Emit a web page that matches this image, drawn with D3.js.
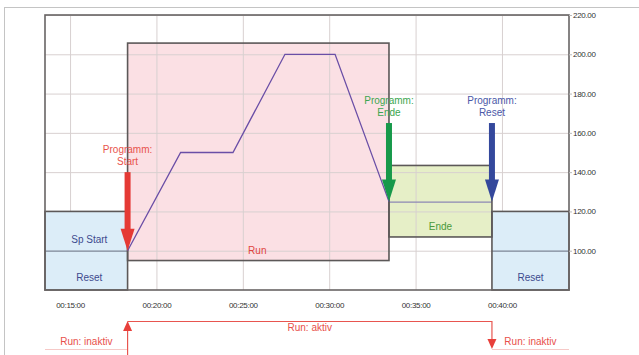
<!DOCTYPE html>
<html>
<head>
<meta charset="utf-8">
<script src="https://cdn.jsdelivr.net/npm/d3@7"></script>
<style>
  body { margin: 0; background: #fff; }
  text { font-family: "Liberation Sans", Arial, sans-serif; }
</style>
</head>
<body>
<svg id="chart" width="639" height="355"></svg>
<script>
// time in minutes after 00:00:00
var xDomain = [13.55, 43.88],
    yDomain = [80, 220],
    xTicks = [15, 20, 25, 30, 35, 40],
    yTicks = [100, 120, 140, 160, 180, 200, 220];

// program phases
var phaseNames = ["Reset", "Run", "Ende", "Reset"],
    phaseStart = [13.55, 18.33, 33.46, 39.42],
    phaseEnd   = [18.33, 33.46, 39.42, 43.88],
    phaseLow   = [80, 95, 107, 80],
    phaseHigh  = [120, 205.7, 143.4, 120];

// setpoint profile while running
var spTime  = [18.33, 21.4, 24.43, 27.44, 30.34, 33.46],
    spValue = [100, 150, 150, 200, 200, 125];

// setpoint holds outside of run
var holdStart = [13.55, 33.46, 39.42],
    holdEnd   = [18.33, 39.42, 43.88],
    holdValue = [100, 125, 100];

// program events
var eventNames  = ["Start", "Ende", "Reset"],
    eventTimes  = [18.33, 33.46, 39.42],
    eventValues = [100, 125, 125];

// run signal
var runTimes  = [13.55, 18.33, 39.42, 43.88],
    runStates = ["inaktiv", "aktiv", "inaktiv"];

var svg = d3.select("#chart"),
    MARGINS = {top: 15, right: 70, bottom: 65, left: 45},
    WIDTH = 639, HEIGHT = 355;

var x = d3.scaleLinear().domain(xDomain).range([MARGINS.left, WIDTH - MARGINS.right]),
    y = d3.scaleLinear().domain(yDomain).range([HEIGHT - MARGINS.bottom, MARGINS.top]),
    yRun = d3.scalePoint().domain(["aktiv", "inaktiv"]).range([321, 349]);

var fills = {Reset: "#dcedf8", Run: "#fbe0e4", Ende: "#e6efc7"},
    textCol = {Reset: "#3d4a8e", Run: "#e0453e", Ende: "#4a9a3c"},
    evCol = {Start: "#e53a35", Ende: "#17994a", Reset: "#34489c"},
    evText = {Start: "#e8524c", Ende: "#3ca650", Reset: "#4b58a8"};

var pad = function(n) { return (n < 10 ? "0" : "") + n; };

// outer frame of the figure
svg.append("rect").attr("x", 4.5).attr("y", 7.5).attr("width", 700).attr("height", 400)
  .attr("fill", "none").attr("stroke", "#c4c4c4");

var idx = d3.range(phaseNames.length);

// translucent phase fills (pink / yellow) under the grid
svg.append("g").selectAll("rect").data(idx.filter(function(i) { return phaseNames[i] != "Reset"; }))
  .enter().append("rect")
  .attr("x", function(i) { return x(phaseStart[i]); })
  .attr("y", function(i) { return y(phaseHigh[i]); })
  .attr("width", function(i) { return x(phaseEnd[i]) - x(phaseStart[i]); })
  .attr("height", function(i) { return y(phaseLow[i]) - y(phaseHigh[i]); })
  .attr("fill", function(i) { return fills[phaseNames[i]]; });

// grid
var grid = svg.append("g").attr("stroke", "#d8d0d0").attr("stroke-width", 1);
grid.selectAll(".gx").data(xTicks).enter().append("line")
  .attr("x1", function(d) { return x(d) + 0.5; }).attr("x2", function(d) { return x(d) + 0.5; })
  .attr("y1", y(yDomain[1])).attr("y2", y(yDomain[0]));
grid.selectAll(".gy").data(yTicks).enter().append("line")
  .attr("x1", x(xDomain[0])).attr("x2", x(xDomain[1]))
  .attr("y1", function(d) { return y(d) + 0.5; }).attr("y2", function(d) { return y(d) + 0.5; });

// reset boxes are opaque
svg.append("g").selectAll("rect").data(idx.filter(function(i) { return phaseNames[i] == "Reset"; }))
  .enter().append("rect")
  .attr("x", function(i) { return x(phaseStart[i]); })
  .attr("y", function(i) { return y(phaseHigh[i]); })
  .attr("width", function(i) { return x(phaseEnd[i]) - x(phaseStart[i]); })
  .attr("height", function(i) { return y(phaseLow[i]) - y(phaseHigh[i]); })
  .attr("fill", fills.Reset);

// setpoint holds
svg.append("g").selectAll("line").data(d3.range(holdStart.length)).enter().append("line")
  .attr("x1", function(i) { return x(holdStart[i]); })
  .attr("x2", function(i) { return x(holdEnd[i]); })
  .attr("y1", function(i) { return y(holdValue[i]) + 0.5; })
  .attr("y2", function(i) { return y(holdValue[i]) + 0.5; })
  .attr("stroke", function(i) { return i == 1 ? "#8c88b4" : "#7c8596"; })
  .attr("stroke-width", 1.2);

// phase borders
svg.append("g").selectAll("rect").data(idx).enter().append("rect")
  .attr("x", function(i) { return x(phaseStart[i]); })
  .attr("y", function(i) { return y(phaseHigh[i]); })
  .attr("width", function(i) { return x(phaseEnd[i]) - x(phaseStart[i]); })
  .attr("height", function(i) { return y(phaseLow[i]) - y(phaseHigh[i]); })
  .attr("fill", "none").attr("stroke", "#5c5858").attr("stroke-width", 1.6);

// setpoint profile
var lineGen = d3.line()
  .x(function(i) { return x(spTime[i]); })
  .y(function(i) { return y(spValue[i]); });
svg.append("path")
  .attr("d", lineGen(d3.range(spTime.length)))
  .attr("fill", "none").attr("stroke", "#6a4ea6").attr("stroke-width", 1.3);

// phase labels
var phaseLabelY = [118, 97.5, 111, 95.5];
svg.append("g").selectAll("text").data(idx).enter().append("text")
  .attr("x", function(i) { return x((phaseStart[i] + phaseEnd[i]) / 2) + (i == 0 ? 3 : i == 1 ? -1 : 0); })
  .attr("y", function(i) { return y(phaseLow[i] == 80 ? 84.5 : (phaseLow[i] + 3.5)); })
  .attr("text-anchor", "middle").attr("font-size", 10)
  .attr("fill", function(i) { return textCol[phaseNames[i]]; })
  .text(function(i) { return phaseNames[i]; });
svg.append("text").attr("x", x((phaseStart[0] + phaseEnd[0]) / 2) + 3).attr("y", y(104))
  .attr("text-anchor", "middle").attr("font-size", 10).attr("fill", textCol.Reset).text("Sp Start");

// event arrows
var ev = svg.append("g").selectAll("g").data(d3.range(eventNames.length)).enter().append("g");
ev.append("rect")
  .attr("x", function(i) { return x(eventTimes[i]) - 3; })
  .attr("y", function(i) { return y(eventValues[i] + 40); })
  .attr("width", 6)
  .attr("height", function(i) { return y(eventValues[i]) - y(eventValues[i] + 40) - 21; })
  .attr("fill", function(i) { return evCol[eventNames[i]]; });
ev.append("path")
  .attr("d", function(i) {
    var cx = x(eventTimes[i]), ty = y(eventValues[i]);
    return "M" + (cx - 7) + "," + (ty - 22) + "L" + (cx + 7) + "," + (ty - 22) + "L" + cx + "," + ty + "Z";
  })
  .attr("fill", function(i) { return evCol[eventNames[i]]; });
ev.append("text")
  .attr("x", function(i) { return x(eventTimes[i]); })
  .attr("y", function(i) { return y(eventValues[i] + 40) - 19; })
  .attr("text-anchor", "middle").attr("font-size", 10)
  .attr("fill", function(i) { return evText[eventNames[i]]; })
  .text("Programm:");
ev.append("text")
  .attr("x", function(i) { return x(eventTimes[i]); })
  .attr("y", function(i) { return y(eventValues[i] + 40) - 7; })
  .attr("text-anchor", "middle").attr("font-size", 10)
  .attr("fill", function(i) { return evText[eventNames[i]]; })
  .text(function(i) { return eventNames[i]; });

// plot frame
svg.append("rect")
  .attr("x", x(xDomain[0])).attr("y", y(yDomain[1]))
  .attr("width", x(xDomain[1]) - x(xDomain[0])).attr("height", y(yDomain[0]) - y(yDomain[1]))
  .attr("fill", "none").attr("stroke", "#686464").attr("stroke-width", 1.6);

// axes
var xAxis = d3.axisBottom(x).tickValues(xTicks).tickSize(0).tickPadding(12)
      .tickFormat(function(d) { return "00:" + pad(d) + ":00"; }),
    yAxis = d3.axisRight(y).tickValues(yTicks).tickSize(3).tickPadding(1)
      .tickFormat(d3.format(".2f"));

var gx = svg.append("g").attr("transform", "translate(0," + y(yDomain[0]) + ")").call(xAxis);
var gy = svg.append("g").attr("transform", "translate(" + x(xDomain[1]) + ",0)").call(yAxis);
[gx, gy].forEach(function(g) {
  g.select(".domain").remove();
  g.selectAll("text").attr("font-size", 8).attr("fill", "#333")
    .attr("font-family", "'Liberation Sans', Arial, sans-serif").attr("letter-spacing", -0.3);
  g.selectAll("line").attr("stroke", "#bbb");
});

// run signal
var runG = svg.append("g");
runStates.forEach(function(s, i) {
  runG.append("line")
    .attr("x1", x(runTimes[i])).attr("x2", x(runTimes[i + 1]))
    .attr("y1", yRun(s) + 0.5).attr("y2", yRun(s) + 0.5)
    .attr("stroke", s == "aktiv" ? "#e8554f" : "#f6c9c7").attr("stroke-width", 1.2);
});
// rising and falling edges
runG.append("line").attr("x1", x(runTimes[1])).attr("x2", x(runTimes[1]))
  .attr("y1", 355).attr("y2", yRun("aktiv") + 9).attr("stroke", "#e8554f").attr("stroke-width", 1.2);
runG.append("path")
  .attr("d", "M" + (x(runTimes[1]) - 4.5) + "," + (yRun("aktiv") + 10) + "L" + (x(runTimes[1]) + 4.5) + "," +
    (yRun("aktiv") + 10) + "L" + x(runTimes[1]) + "," + yRun("aktiv") + "Z")
  .attr("fill", "#e8403b");
runG.append("line").attr("x1", x(runTimes[2])).attr("x2", x(runTimes[2]))
  .attr("y1", yRun("aktiv")).attr("y2", yRun("inaktiv") - 9).attr("stroke", "#e8554f").attr("stroke-width", 1.2);
runG.append("path")
  .attr("d", "M" + (x(runTimes[2]) - 4.5) + "," + (yRun("inaktiv") - 10) + "L" + (x(runTimes[2]) + 4.5) + "," +
    (yRun("inaktiv") - 10) + "L" + x(runTimes[2]) + "," + yRun("inaktiv") + "Z")
  .attr("fill", "#e8403b");

runStates.forEach(function(s, i) {
  runG.append("text")
    .attr("x", (x(runTimes[i]) + x(runTimes[i + 1])) / 2 + (s == "aktiv" ? 0 : i == 0 ? 0 : 0))
    .attr("y", s == "aktiv" ? 331 : 345)
    .attr("text-anchor", "middle").attr("font-size", 10).attr("fill", "#e8504a")
    .text("Run: " + s);
});
</script>
</body>
</html>
